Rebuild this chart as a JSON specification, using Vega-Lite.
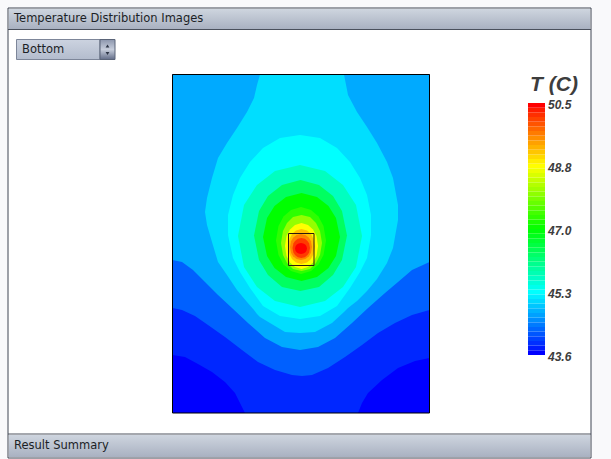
{
"$schema":"https://vega.github.io/schema/vega-lite/v6.json",
"width":611,"height":459,"padding":0,"autosize":{"type":"none"},
"background":"#f9f9fb",
"config":{"view":{"stroke":null}},
"datasets":{
"panel":[{"x":8,"x2":591,"y":8,"y2":458}],
"bars":[{"name":"header","x":9,"x2":590,"y":9,"y2":29},{"name":"footer","x":9,"x2":590,"y":435,"y2":457}],
"lines":[{"x":8,"x2":591,"y":29.5},{"x":8,"x2":591,"y":434}],
"labels":[{"x":14,"y":19,"s":"Temperature Distribution Images"},{"x":14,"y":445.5,"s":"Result Summary"},{"x":22,"y":50,"s":"Bottom"}],
"select":[{"x":16.5,"x2":100,"y":39.5,"y2":59.5}],
"spin":[{"x":100,"x2":115,"y":39.5,"y2":59.5}],
"arrows":[{"x":107.5,"y":46,"k":"up"},{"x":107.5,"y":53.5,"k":"down"}],
"plot":[{"x":172.5,"x2":429.5,"y":74.5,"y2":413,"t":43.6}],
"source":[{"x":288.5,"x2":314,"y":233.5,"y2":265.5}],
"contours":[
{"b":"B","t":43.865,"x":172.5,"y":74.5,"y2":355},{"b":"B","t":43.865,"x":185,"y":74.5,"y2":357},{"b":"B","t":43.865,"x":198,"y":74.5,"y2":364},{"b":"B","t":43.865,"x":212,"y":74.5,"y2":372},{"b":"B","t":43.865,"x":225,"y":74.5,"y2":382},{"b":"B","t":43.865,"x":235,"y":74.5,"y2":393},{"b":"B","t":43.865,"x":242,"y":74.5,"y2":407},{"b":"B","t":43.865,"x":245,"y":74.5,"y2":413},{"b":"B","t":43.865,"x":358,"y":74.5,"y2":413},{"b":"B","t":43.865,"x":362,"y":74.5,"y2":403},{"b":"B","t":43.865,"x":368,"y":74.5,"y2":393},{"b":"B","t":43.865,"x":382,"y":74.5,"y2":380},{"b":"B","t":43.865,"x":398,"y":74.5,"y2":368},{"b":"B","t":43.865,"x":415,"y":74.5,"y2":361},{"b":"B","t":43.865,"x":429.5,"y":74.5,"y2":358},
{"b":"C","t":44.25,"x":172.5,"y":74.5,"y2":308},{"b":"C","t":44.25,"x":182,"y":74.5,"y2":310},{"b":"C","t":44.25,"x":195,"y":74.5,"y2":316},{"b":"C","t":44.25,"x":208,"y":74.5,"y2":325},{"b":"C","t":44.25,"x":225,"y":74.5,"y2":337},{"b":"C","t":44.25,"x":242,"y":74.5,"y2":350},{"b":"C","t":44.25,"x":258,"y":74.5,"y2":362},{"b":"C","t":44.25,"x":275,"y":74.5,"y2":370},{"b":"C","t":44.25,"x":292,"y":74.5,"y2":375},{"b":"C","t":44.25,"x":302,"y":74.5,"y2":376},{"b":"C","t":44.25,"x":312,"y":74.5,"y2":375},{"b":"C","t":44.25,"x":328,"y":74.5,"y2":368},{"b":"C","t":44.25,"x":345,"y":74.5,"y2":357},{"b":"C","t":44.25,"x":362,"y":74.5,"y2":345},{"b":"C","t":44.25,"x":378,"y":74.5,"y2":333},{"b":"C","t":44.25,"x":395,"y":74.5,"y2":323},{"b":"C","t":44.25,"x":412,"y":74.5,"y2":315},{"b":"C","t":44.25,"x":429.5,"y":74.5,"y2":310},
{"b":"D","t":44.75,"x":172.5,"y":74.5,"y2":260},{"b":"D","t":44.75,"x":182,"y":74.5,"y2":262},{"b":"D","t":44.75,"x":193,"y":74.5,"y2":270},{"b":"D","t":44.75,"x":205,"y":74.5,"y2":282},{"b":"D","t":44.75,"x":218,"y":74.5,"y2":295},{"b":"D","t":44.75,"x":232,"y":74.5,"y2":308},{"b":"D","t":44.75,"x":248,"y":74.5,"y2":323},{"b":"D","t":44.75,"x":265,"y":74.5,"y2":338},{"b":"D","t":44.75,"x":282,"y":74.5,"y2":347},{"b":"D","t":44.75,"x":300,"y":74.5,"y2":350},{"b":"D","t":44.75,"x":318,"y":74.5,"y2":347},{"b":"D","t":44.75,"x":335,"y":74.5,"y2":338},{"b":"D","t":44.75,"x":352,"y":74.5,"y2":323},{"b":"D","t":44.75,"x":368,"y":74.5,"y2":308},{"b":"D","t":44.75,"x":385,"y":74.5,"y2":293},{"b":"D","t":44.75,"x":398,"y":74.5,"y2":282},{"b":"D","t":44.75,"x":412,"y":74.5,"y2":270},{"b":"D","t":44.75,"x":429.5,"y":74.5,"y2":262},
{"b":"E","t":45.1,"x":205,"y":212,"y2":212},{"b":"E","t":45.1,"x":207,"y":198,"y2":225},{"b":"E","t":45.1,"x":212,"y":178,"y2":242},{"b":"E","t":45.1,"x":218,"y":158,"y2":262},{"b":"E","t":45.1,"x":227,"y":143,"y2":275},{"b":"E","t":45.1,"x":237,"y":128,"y2":290},{"b":"E","t":45.1,"x":247,"y":112,"y2":302},{"b":"E","t":45.1,"x":254,"y":98,"y2":310},{"b":"E","t":45.1,"x":257,"y":85,"y2":314},{"b":"E","t":45.1,"x":260,"y":74.5,"y2":317},{"b":"E","t":45.1,"x":285,"y":74.5,"y2":332},{"b":"E","t":45.1,"x":300,"y":74.5,"y2":333},{"b":"E","t":45.1,"x":315,"y":74.5,"y2":332},{"b":"E","t":45.1,"x":332,"y":74.5,"y2":323},{"b":"E","t":45.1,"x":344,"y":74.5,"y2":312},{"b":"E","t":45.1,"x":348,"y":95,"y2":308},{"b":"E","t":45.1,"x":357,"y":112,"y2":301},{"b":"E","t":45.1,"x":367,"y":127,"y2":291},{"b":"E","t":45.1,"x":377,"y":143,"y2":279},{"b":"E","t":45.1,"x":387,"y":162,"y2":263},{"b":"E","t":45.1,"x":393,"y":178,"y2":248},{"b":"E","t":45.1,"x":398,"y":205,"y2":220},
{"b":"F","t":45.325,"x":228,"y":215,"y2":235},{"b":"F","t":45.325,"x":233,"y":195,"y2":258},{"b":"F","t":45.325,"x":240,"y":178,"y2":272},{"b":"F","t":45.325,"x":250,"y":162,"y2":288},{"b":"F","t":45.325,"x":263,"y":148,"y2":306},{"b":"F","t":45.325,"x":280,"y":138,"y2":316},{"b":"F","t":45.325,"x":300,"y":135,"y2":319},{"b":"F","t":45.325,"x":320,"y":138,"y2":316},{"b":"F","t":45.325,"x":337,"y":148,"y2":306},{"b":"F","t":45.325,"x":350,"y":162,"y2":288},{"b":"F","t":45.325,"x":360,"y":178,"y2":272},{"b":"F","t":45.325,"x":367,"y":195,"y2":258},{"b":"F","t":45.325,"x":371,"y":215,"y2":235},
{"b":"G","t":45.75,"x":238,"y":236,"y2":236},{"b":"G","t":45.75,"x":244,"y":205,"y2":267},{"b":"G","t":45.75,"x":257,"y":185,"y2":287},{"b":"G","t":45.75,"x":275,"y":171,"y2":301},{"b":"G","t":45.75,"x":300,"y":165,"y2":307},{"b":"G","t":45.75,"x":325,"y":171,"y2":301},{"b":"G","t":45.75,"x":343,"y":185,"y2":287},{"b":"G","t":45.75,"x":356,"y":205,"y2":267},{"b":"G","t":45.75,"x":362,"y":236,"y2":236},
{"b":"H","t":46.4,"x":254,"y":235.5,"y2":235.5},{"b":"H","t":46.4,"x":259,"y":211,"y2":260},{"b":"H","t":46.4,"x":268,"y":196,"y2":275},{"b":"H","t":46.4,"x":282,"y":185,"y2":287},{"b":"H","t":46.4,"x":300.5,"y":180,"y2":291},{"b":"H","t":46.4,"x":319,"y":185,"y2":287},{"b":"H","t":46.4,"x":333,"y":196,"y2":275},{"b":"H","t":46.4,"x":342,"y":211,"y2":260},{"b":"H","t":46.4,"x":347,"y":235.5,"y2":235.5},
{"b":"I","t":47.05,"x":263,"y":237,"y2":237},{"b":"I","t":47.05,"x":267,"y":218,"y2":256},{"b":"I","t":47.05,"x":274.5,"y":206,"y2":268},{"b":"I","t":47.05,"x":286,"y":197,"y2":277},{"b":"I","t":47.05,"x":301.5,"y":193,"y2":281},{"b":"I","t":47.05,"x":317,"y":197,"y2":277},{"b":"I","t":47.05,"x":328.5,"y":206,"y2":268},{"b":"I","t":47.05,"x":336,"y":218,"y2":256},{"b":"I","t":47.05,"x":340,"y":237,"y2":237},
{"b":"J","t":47.35,"x":276,"y":240.5,"y2":240.5},{"b":"J","t":47.35,"x":278.5,"y":226,"y2":255},{"b":"J","t":47.35,"x":283.5,"y":216.5,"y2":264.5},{"b":"J","t":47.35,"x":291,"y":210,"y2":271},{"b":"J","t":47.35,"x":301,"y":207,"y2":274},{"b":"J","t":47.35,"x":311,"y":210,"y2":271},{"b":"J","t":47.35,"x":318.5,"y":216.5,"y2":264.5},{"b":"J","t":47.35,"x":323.5,"y":226,"y2":255},{"b":"J","t":47.35,"x":326,"y":240.5,"y2":240.5},
{"b":"K","t":48.05,"x":281,"y":243,"y2":243},{"b":"K","t":48.05,"x":283,"y":231,"y2":255},{"b":"K","t":48.05,"x":287,"y":223,"y2":263},{"b":"K","t":48.05,"x":293,"y":217,"y2":269},{"b":"K","t":48.05,"x":301.5,"y":215,"y2":271},{"b":"K","t":48.05,"x":310,"y":217,"y2":269},{"b":"K","t":48.05,"x":316,"y":223,"y2":263},{"b":"K","t":48.05,"x":320,"y":231,"y2":255},{"b":"K","t":48.05,"x":322,"y":243,"y2":243},
{"b":"L","t":48.775,"x":285,"y":246,"y2":246},{"b":"L","t":48.775,"x":286.5,"y":236,"y2":256},{"b":"L","t":48.775,"x":290,"y":229.6,"y2":262.4},{"b":"L","t":48.775,"x":295,"y":225,"y2":267},{"b":"L","t":48.775,"x":301.5,"y":223,"y2":269},{"b":"L","t":48.775,"x":308,"y":225,"y2":267},{"b":"L","t":48.775,"x":313,"y":229.6,"y2":262.4},{"b":"L","t":48.775,"x":316.5,"y":236,"y2":256},{"b":"L","t":48.775,"x":318,"y":246,"y2":246},
{"b":"M","t":49.2,"x":288,"y":246.5,"y2":246.5},{"b":"M","t":49.2,"x":289.5,"y":239,"y2":254},{"b":"M","t":49.2,"x":292,"y":234,"y2":259},{"b":"M","t":49.2,"x":296,"y":230.5,"y2":262.5},{"b":"M","t":49.2,"x":301.5,"y":229,"y2":264},{"b":"M","t":49.2,"x":307,"y":230.5,"y2":262.5},{"b":"M","t":49.2,"x":311,"y":234,"y2":259},{"b":"M","t":49.2,"x":313.5,"y":239,"y2":254},{"b":"M","t":49.2,"x":315,"y":246.5,"y2":246.5},
{"b":"N","t":49.6,"x":290,"y":247,"y2":247},{"b":"N","t":49.6,"x":291,"y":241.3,"y2":252.7},{"b":"N","t":49.6,"x":293,"y":237.7,"y2":256.3},{"b":"N","t":49.6,"x":296.5,"y":235,"y2":259},{"b":"N","t":49.6,"x":301,"y":234,"y2":260},{"b":"N","t":49.6,"x":305.5,"y":235,"y2":259},{"b":"N","t":49.6,"x":309,"y":237.7,"y2":256.3},{"b":"N","t":49.6,"x":311,"y":241.3,"y2":252.7},{"b":"N","t":49.6,"x":312,"y":247,"y2":247},
{"b":"O","t":50.1,"x":292.5,"y":248,"y2":248},{"b":"O","t":50.1,"x":293.4,"y":243.6,"y2":252.4},{"b":"O","t":50.1,"x":295,"y":241,"y2":255},{"b":"O","t":50.1,"x":297.8,"y":238.8,"y2":257.2},{"b":"O","t":50.1,"x":301.3,"y":238,"y2":258},{"b":"O","t":50.1,"x":304.8,"y":238.8,"y2":257.2},{"b":"O","t":50.1,"x":307.5,"y":241,"y2":255},{"b":"O","t":50.1,"x":309.2,"y":243.6,"y2":252.4},{"b":"O","t":50.1,"x":310,"y":248,"y2":248},
{"b":"P","t":50.5,"x":295,"y":248.5,"y2":248.5},{"b":"P","t":50.5,"x":295.6,"y":246,"y2":251},{"b":"P","t":50.5,"x":296.8,"y":244.6,"y2":252.4},{"b":"P","t":50.5,"x":298.6,"y":243.5,"y2":253.5},{"b":"P","t":50.5,"x":301,"y":243,"y2":254},{"b":"P","t":50.5,"x":303.4,"y":243.5,"y2":253.5},{"b":"P","t":50.5,"x":305.2,"y":244.6,"y2":252.4},{"b":"P","t":50.5,"x":306.4,"y":246,"y2":251},{"b":"P","t":50.5,"x":307,"y":248.5,"y2":248.5}
],
"colorbar":[
{"t":43.6,"lo":43.6,"hi":43.728},{"t":43.79,"lo":43.728,"hi":43.856},{"t":43.92,"lo":43.856,"hi":43.983},{"t":44.05,"lo":43.983,"hi":44.111},{"t":44.18,"lo":44.111,"hi":44.239},{"t":44.3,"lo":44.239,"hi":44.367},{"t":44.43,"lo":44.367,"hi":44.494},{"t":44.56,"lo":44.494,"hi":44.622},{"t":44.69,"lo":44.622,"hi":44.75},{"t":44.81,"lo":44.75,"hi":44.878},{"t":44.94,"lo":44.878,"hi":45.006},{"t":45.07,"lo":45.006,"hi":45.133},{"t":45.2,"lo":45.133,"hi":45.261},{"t":45.33,"lo":45.261,"hi":45.389},{"t":45.45,"lo":45.389,"hi":45.517},{"t":45.58,"lo":45.517,"hi":45.644},{"t":45.71,"lo":45.644,"hi":45.772},{"t":45.84,"lo":45.772,"hi":45.9},{"t":45.96,"lo":45.9,"hi":46.028},{"t":46.09,"lo":46.028,"hi":46.156},{"t":46.22,"lo":46.156,"hi":46.283},{"t":46.35,"lo":46.283,"hi":46.411},{"t":46.48,"lo":46.411,"hi":46.539},{"t":46.6,"lo":46.539,"hi":46.667},{"t":46.73,"lo":46.667,"hi":46.794},{"t":46.86,"lo":46.794,"hi":46.922},{"t":46.99,"lo":46.922,"hi":47.05},{"t":47.11,"lo":47.05,"hi":47.178},{"t":47.24,"lo":47.178,"hi":47.306},{"t":47.37,"lo":47.306,"hi":47.433},{"t":47.5,"lo":47.433,"hi":47.561},{"t":47.63,"lo":47.561,"hi":47.689},{"t":47.75,"lo":47.689,"hi":47.817},{"t":47.88,"lo":47.817,"hi":47.944},{"t":48.01,"lo":47.944,"hi":48.072},{"t":48.14,"lo":48.072,"hi":48.2},{"t":48.26,"lo":48.2,"hi":48.328},{"t":48.39,"lo":48.328,"hi":48.456},{"t":48.52,"lo":48.456,"hi":48.583},{"t":48.65,"lo":48.583,"hi":48.711},{"t":48.78,"lo":48.711,"hi":48.839},{"t":48.9,"lo":48.839,"hi":48.967},{"t":49.03,"lo":48.967,"hi":49.094},{"t":49.16,"lo":49.094,"hi":49.222},{"t":49.29,"lo":49.222,"hi":49.35},{"t":49.41,"lo":49.35,"hi":49.478},{"t":49.54,"lo":49.478,"hi":49.606},{"t":49.67,"lo":49.606,"hi":49.733},{"t":49.8,"lo":49.733,"hi":49.861},{"t":49.93,"lo":49.861,"hi":49.989},{"t":50.05,"lo":49.989,"hi":50.117},{"t":50.18,"lo":50.117,"hi":50.244},{"t":50.31,"lo":50.244,"hi":50.372},{"t":50.5,"lo":50.372,"hi":50.5}
],
"ticks":[{"v":50.5,"s":"50.5"},{"v":48.775,"s":"48.8"},{"v":47.05,"s":"47.0"},{"v":45.325,"s":"45.3"},{"v":43.6,"s":"43.6"}],
"title":[{"x":554,"y":90.5,"s":"T (C)"}]
},
"resolve":{"scale":{"y":"independent"}},
"layer":[
{"data":{"name":"panel"},"mark":{"type":"rect","fill":"#ffffff","stroke":"#3f4552","strokeWidth":1},
 "encoding":{"x":{"field":"x","type":"quantitative","scale":{"domain":[0,611],"range":[0,611]},"axis":null},"x2":{"field":"x2"},"y":{"field":"y","type":"quantitative","scale":{"domain":[459,0]},"axis":null},"y2":{"field":"y2"}}},
{"data":{"name":"bars"},"mark":{"type":"rect","fill":{"gradient":"linear","x1":0,"y1":0,"x2":0,"y2":1,"stops":[{"offset":0,"color":"#ced5df"},{"offset":1,"color":"#a9b1c1"}]}},
 "encoding":{"x":{"field":"x","type":"quantitative","scale":{"domain":[0,611],"range":[0,611]},"axis":null},"x2":{"field":"x2"},"y":{"field":"y","type":"quantitative","scale":{"domain":[459,0]},"axis":null},"y2":{"field":"y2"}}},
{"data":{"name":"lines"},"mark":{"type":"rule","stroke":"#4a505c","strokeWidth":1},
 "encoding":{"x":{"field":"x","type":"quantitative","scale":{"domain":[0,611],"range":[0,611]},"axis":null},"x2":{"field":"x2"},"y":{"field":"y","type":"quantitative","scale":{"domain":[459,0]},"axis":null}}},
{"data":{"name":"select"},"mark":{"type":"rect","fill":{"gradient":"linear","x1":0,"y1":0,"x2":0,"y2":1,"stops":[{"offset":0,"color":"#ccd3e0"},{"offset":1,"color":"#b3bccd"}]},"stroke":"#7d8699","strokeWidth":1},
 "encoding":{"x":{"field":"x","type":"quantitative","scale":{"domain":[0,611],"range":[0,611]},"axis":null},"x2":{"field":"x2"},"y":{"field":"y","type":"quantitative","scale":{"domain":[459,0]},"axis":null},"y2":{"field":"y2"}}},
{"data":{"name":"spin"},"mark":{"type":"rect","fill":{"gradient":"linear","x1":0,"y1":0,"x2":0,"y2":1,"stops":[{"offset":0,"color":"#8c96ad"},{"offset":0.5,"color":"#c6cddb"},{"offset":1,"color":"#626d88"}]},"stroke":"#5a6478","strokeWidth":1},
 "encoding":{"x":{"field":"x","type":"quantitative","scale":{"domain":[0,611],"range":[0,611]},"axis":null},"x2":{"field":"x2"},"y":{"field":"y","type":"quantitative","scale":{"domain":[459,0]},"axis":null},"y2":{"field":"y2"}}},
{"data":{"name":"arrows"},"mark":{"type":"point","filled":true,"size":14,"color":"#2c3444","opacity":1},
 "encoding":{"x":{"field":"x","type":"quantitative","scale":{"domain":[0,611],"range":[0,611]},"axis":null},"y":{"field":"y","type":"quantitative","scale":{"domain":[459,0]},"axis":null},"shape":{"field":"k","type":"nominal","scale":{"domain":["up","down"],"range":["triangle-up","triangle-down"]},"legend":null}}},
{"data":{"name":"labels"},"mark":{"type":"text","align":"left","baseline":"middle","font":"DejaVu Sans","fontSize":11.5,"color":"#1c1f26"},
 "encoding":{"x":{"field":"x","type":"quantitative","scale":{"domain":[0,611],"range":[0,611]},"axis":null},"y":{"field":"y","type":"quantitative","scale":{"domain":[459,0]},"axis":null},"text":{"field":"s"}}},
{"data":{"name":"plot"},"mark":{"type":"rect"},
 "encoding":{"x":{"field":"x","type":"quantitative","scale":{"domain":[0,611],"range":[0,611]},"axis":null},"x2":{"field":"x2"},"y":{"field":"y","type":"quantitative","scale":{"domain":[459,0]},"axis":null},"y2":{"field":"y2"},"color":{"field":"t","type":"quantitative","scale":{"domain":[43.6,45.325,47.05,48.775,50.5],"range":["#0000ff","#00ffff","#00ff00","#ffff00","#ff0000"],"interpolate":"rgb"},"legend":null}}},
{"data":{"name":"contours"},"mark":{"type":"area","interpolate":"linear","opacity":1},
 "encoding":{"x":{"field":"x","type":"quantitative","scale":{"domain":[0,611],"range":[0,611]},"axis":null},"y":{"field":"y","type":"quantitative","scale":{"domain":[459,0]},"axis":null},"y2":{"field":"y2"},"detail":{"field":"b","type":"nominal"},"color":{"field":"t","type":"quantitative","legend":null}}},
{"data":{"name":"plot"},"mark":{"type":"rect","fill":null,"stroke":"#000000","strokeWidth":1},
 "encoding":{"x":{"field":"x","type":"quantitative","scale":{"domain":[0,611],"range":[0,611]},"axis":null},"x2":{"field":"x2"},"y":{"field":"y","type":"quantitative","scale":{"domain":[459,0]},"axis":null},"y2":{"field":"y2"}}},
{"data":{"name":"source"},"mark":{"type":"rect","fill":null,"stroke":"#2a1a10","strokeWidth":1},
 "encoding":{"x":{"field":"x","type":"quantitative","scale":{"domain":[0,611],"range":[0,611]},"axis":null},"x2":{"field":"x2"},"y":{"field":"y","type":"quantitative","scale":{"domain":[459,0]},"axis":null},"y2":{"field":"y2"}}},
{"data":{"name":"colorbar"},"mark":{"type":"rect"},
 "encoding":{"x":{"datum":528,"type":"quantitative","scale":{"domain":[0,611],"range":[0,611]},"axis":null},"x2":{"datum":545},"y":{"field":"lo","type":"quantitative","scale":{"domain":[43.6,50.5],"range":[355,103]},"axis":null},"y2":{"field":"hi"},"color":{"field":"t","type":"quantitative","legend":null}}},
{"data":{"name":"ticks"},"mark":{"type":"text","align":"left","baseline":"middle","dy":2,"font":"Liberation Sans","fontSize":12,"fontWeight":"bold","fontStyle":"italic","color":"#3d3d3d"},
 "encoding":{"x":{"datum":548,"type":"quantitative","scale":{"domain":[0,611],"range":[0,611]},"axis":null},"y":{"field":"v","type":"quantitative","scale":{"domain":[43.6,50.5],"range":[355,103]},"axis":null},"text":{"field":"s"}}},
{"data":{"name":"title"},"mark":{"type":"text","align":"center","baseline":"alphabetic","font":"Liberation Sans","fontSize":21,"fontWeight":"bold","fontStyle":"italic","color":"#3d3d3d"},
 "encoding":{"x":{"field":"x","type":"quantitative","scale":{"domain":[0,611],"range":[0,611]},"axis":null},"y":{"field":"y","type":"quantitative","scale":{"domain":[459,0]},"axis":null},"text":{"field":"s"}}}
]
}
